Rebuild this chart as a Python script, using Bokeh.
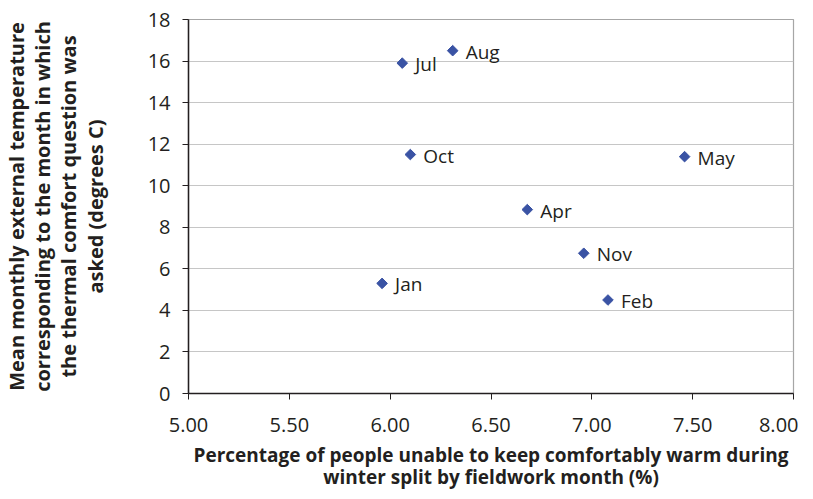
import math
from bokeh.plotting import figure
from bokeh.models import ColumnDataSource, FixedTicker, NumeralTickFormatter, Range1d
from bokeh.core.properties import value
from bokeh.embed import file_html
from bokeh.resources import INLINE

months = ["Jul", "Aug", "Oct", "May", "Apr", "Nov", "Jan", "Feb"]
pct_unable_warm = [6.06, 6.31, 6.10, 7.46, 6.68, 6.96, 5.96, 7.08]
mean_temp = [15.9, 16.5, 11.5, 11.4, 8.85, 6.75, 5.3, 4.5]
x_ticks = [5.0, 5.5, 6.0, 6.5, 7.0, 7.5, 8.0]
y_ticks = [0, 2, 4, 6, 8, 10, 12, 14, 16, 18]

FONT = "Open Sans"
INK = "#231f20"
src = ColumnDataSource(dict(x=pct_unable_warm, y=mean_temp, label=months))

p = figure(width=797, height=483, output_backend="svg", toolbar_location=None,
           x_range=Range1d(5.0, 8.0), y_range=Range1d(0, 18),
           min_border_left=187, min_border_right=5, min_border_top=19, min_border_bottom=90)
p.frame_width = 605
p.frame_height = 374

p.scatter("x", "y", source=src, marker="square", size=7.5, angle=math.pi / 4,
          color="#3A53A4")
p.text("x", "y", text="label", source=src, x_offset=13, y_offset=1,
       text_font=value(FONT), text_font_size="19px", text_color=INK,
       text_baseline="middle", text_align="left")

p.xaxis.ticker = FixedTicker(ticks=x_ticks)
p.xaxis.formatter = NumeralTickFormatter(format="0.00")
p.yaxis.ticker = FixedTicker(ticks=y_ticks)

for ax in (p.xaxis, p.yaxis):
    ax.major_label_text_font = FONT
    ax.major_label_text_font_size = "20px"
    ax.major_label_text_color = INK
    ax.axis_line_color = INK
    ax.axis_line_width = 1.5
    ax.major_tick_line_color = INK
    ax.major_tick_out = 6
    ax.major_tick_in = 0
    ax.minor_tick_line_color = None
    ax.axis_label_text_font = FONT
    ax.axis_label_text_font_style = "bold"
    ax.axis_label_text_color = INK

p.xaxis.axis_label_text_font_size = "19px"
p.yaxis.axis_label_text_font_size = "20px"
p.xaxis.axis_label_text_line_height = 0.88
p.yaxis.axis_label_text_line_height = 0.97

p.xaxis.axis_label = "Percentage of people unable to keep comfortably warm during\nwinter split by fieldwork month (%)"
p.yaxis.axis_label = ("Mean monthly external temperature\ncorresponding to the month in which\n"
                      "the thermal comfort question was\nasked (degrees C)")
p.xaxis.major_label_standoff = 18
p.yaxis.major_label_standoff = 12
p.xaxis.axis_label_standoff = 7
p.yaxis.axis_label_standoff = 36

p.xgrid.grid_line_color = None
p.ygrid.grid_line_color = "#c6c6c6"
p.ygrid.grid_line_width = 1.2
p.outline_line_color = "#a6a6a6"
p.outline_line_width = 1.2
p.background_fill_color = "white"
p.border_fill_color = "white"

open("out.html", "w").write(file_html(p, INLINE))
